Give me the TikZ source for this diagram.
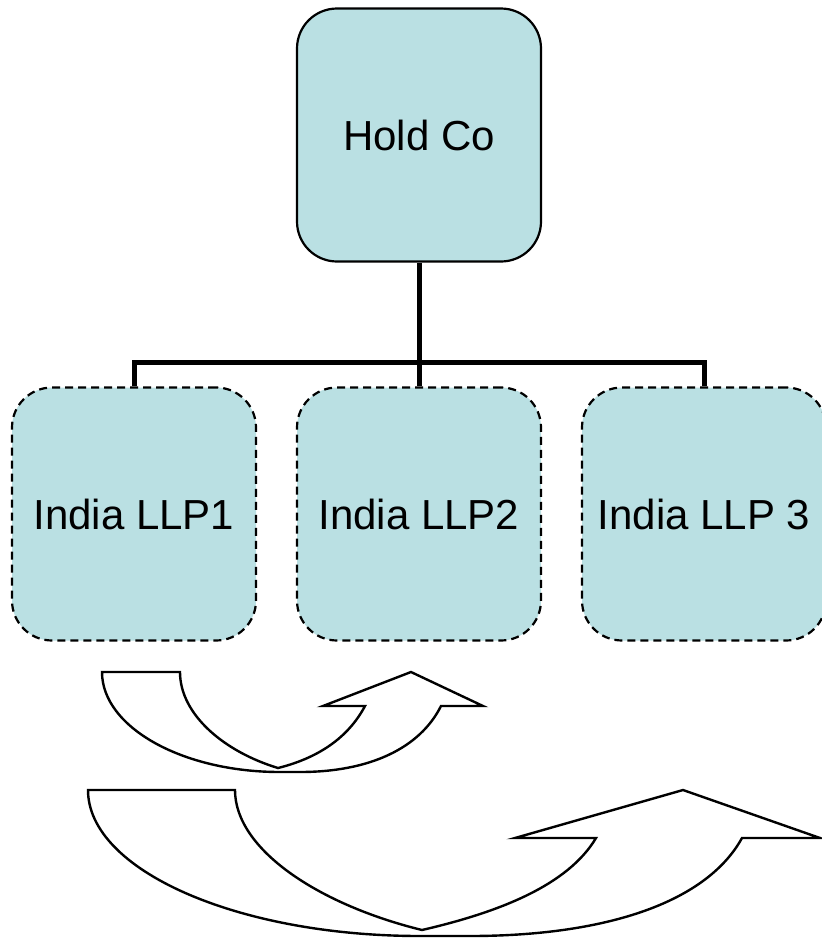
\documentclass[tikz,border=0pt]{standalone}
\usepackage{fontspec}
\setmainfont{Liberation Sans}
\usetikzlibrary{calc}
\definecolor{boxfill}{RGB}{186,224,227}
\tikzset{
	orgbox/.style={draw, fill=boxfill, line width=2.2pt, rounded corners=40pt,
		minimum width=244pt, minimum height=253pt, inner sep=0pt,
		font=\fontsize{42}{48}\selectfont},
	llpbox/.style={orgbox, dash pattern=on 8pt off 5pt},
	conn/.style={line width=5pt},
	curvearrow/.style={draw, fill=white, line width=2.4pt, line join=miter}
}

\begin{document}
\begin{tikzpicture}[x=1pt, y=-1pt]
		%%%%% START %%%%%
		\useasboundingbox (0, 0) rectangle (822, 938);
		
		\node[orgbox] (hold) at (419, 135) {Hold Co};
		
		\node[llpbox] (llp1) at (134, 514) {India LLP1};
		\node[llpbox] (llp2) at (419, 514) {India LLP2};
		\node[llpbox] (llp3) at (704, 514) {India LLP 3};
		
		\coordinate (bus) at (419, 362);
		\draw[conn] (hold.south) -- (bus);
		\draw[conn] (bus) -| (llp1.north);
		\draw[conn] (bus) -- (llp2.north);
		\draw[conn] (bus) -| (llp3.north);
		
		% small curved arrow
		\draw[curvearrow] (102, 672) -- (180, 672)
			.. controls (180, 715) and (225, 752) .. (278, 768)
			.. controls (318, 758) and (348, 738) .. (365, 706)
			-- (323, 706) -- (411, 672) -- (483, 706) -- (441, 706)
			.. controls (420, 748) and (370, 772) .. (300, 772)
			-- (280, 772)
			.. controls (182, 772) and (102, 727) .. cycle;
		
		% large curved arrow
		\draw[curvearrow] (88, 790) -- (235, 790)
			.. controls (235, 850) and (320, 905) .. (422, 930)
			.. controls (500, 912) and (568, 885) .. (596, 838)
			-- (515, 838) -- (683, 790) -- (820, 838) -- (742, 838)
			.. controls (705, 905) and (600, 936) .. (470, 936)
			-- (420, 936)
			.. controls (237, 936) and (88, 870) .. cycle;
		
		%%%%% END %%%%%
	\end{tikzpicture}
\end{document}
